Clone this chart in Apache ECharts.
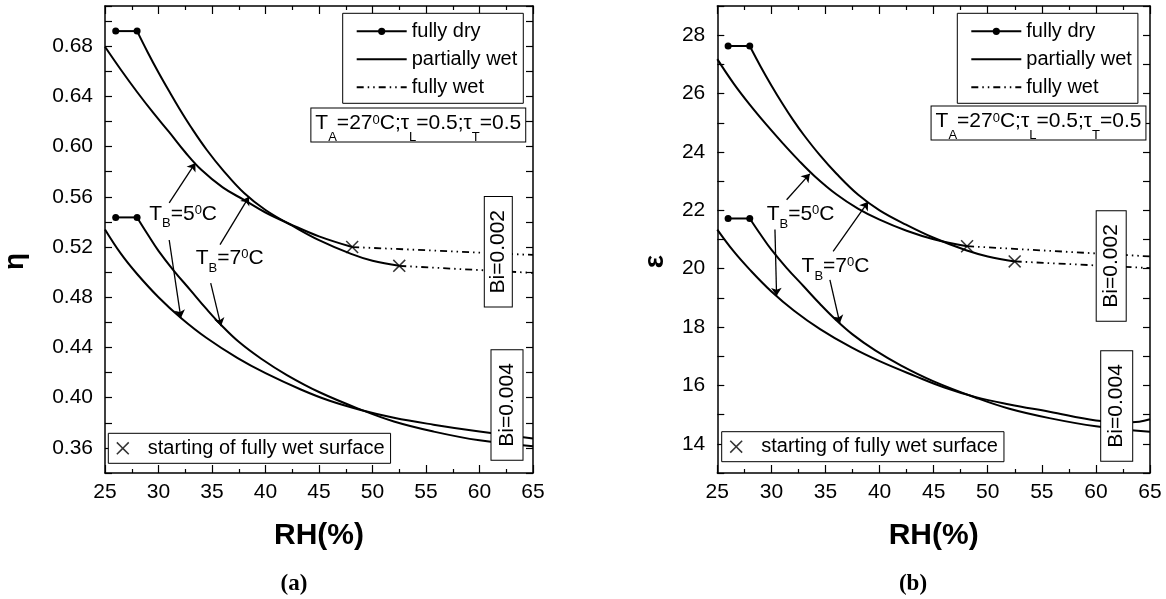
<!DOCTYPE html>
<html>
<head>
<meta charset="utf-8">
<title>eta / epsilon vs RH</title>
<script src="https://cdn.jsdelivr.net/npm/echarts@6.0.0/dist/echarts.min.js"></script>
<style>
  html, body { margin: 0; padding: 0; background: #fff; }
  #main { width: 1166px; height: 599px; }
</style>
</head>
<body>
<div id="main"></div>
<script>
// ---------- panel (a): fin efficiency eta ----------
var rhDry = [26, 28];
var etaDryBi2 = [0.692, 0.692];
var etaDryBi4 = [0.5436, 0.5436];

var rhEtaBi2T7 = [28, 29, 30, 31, 32, 33, 34.5, 36, 38, 40, 42.5, 45, 48, 50, 52.5];
var etaBi2T7 = [0.692, 0.675, 0.659, 0.644, 0.6295, 0.616, 0.5975, 0.5815, 0.563, 0.5495, 0.537, 0.5255, 0.5145, 0.509, 0.505];
var rhEtaBi2T5 = [25, 26.5, 28, 29.5, 31, 32.5, 34, 36, 38, 40, 42.5, 45, 48.1];
var etaBi2T5 = [0.6795, 0.661, 0.6435, 0.627, 0.6115, 0.5955, 0.5815, 0.5675, 0.5575, 0.5475, 0.5375, 0.5285, 0.520];
var rhEtaBi4T7 = [28, 29, 30, 31.4, 33, 34.5, 35.9, 37.5, 39.6, 42, 45, 48.9, 52, 55.7, 60, 65];
var etaBi4T7 = [0.5436, 0.530, 0.517, 0.5015, 0.4855, 0.4705, 0.4575, 0.4445, 0.431, 0.418, 0.4045, 0.3905, 0.381, 0.373, 0.366, 0.3613];
var rhEtaBi4T5 = [25, 26.5, 28, 30, 32.1, 34.5, 37.4, 40, 43.3, 46, 48.9, 52, 55.7, 60, 65];
var etaBi4T5 = [0.534, 0.5145, 0.4985, 0.48, 0.4635, 0.4475, 0.4315, 0.4195, 0.4065, 0.3975, 0.3902, 0.384, 0.3785, 0.373, 0.3674];

var rhWetEtaT5 = [48.1, 65];
var etaWetT5 = [0.520, 0.5137];
var rhWetEtaT7 = [52.5, 65];
var etaWetT7 = [0.505, 0.4994];
var rhOnsetEta = [48.1, 52.5];
var etaOnset = [0.520, 0.505];

// arrows: [x0, y0, x1, y1] (tip at x1,y1), notes: [x, y, T_B]
var etaArrows = [[31.0, 0.5552, 33.45, 0.587], [31.0, 0.5256, 32.09, 0.4635], [35.75, 0.5219, 38.45, 0.560], [34.88, 0.4912, 35.85, 0.457]];
var etaNotes = [[29.13, 0.5465, 5], [33.48, 0.511, 7]];

// ---------- panel (b): fin effectiveness epsilon ----------
var epsDryBi2 = [27.63, 27.63];
var epsDryBi4 = [21.72, 21.72];

var rhEpsBi2T7 = [28, 29, 30, 31, 32, 33, 34.5, 36, 38, 40, 42.5, 45, 48, 50, 52.5];
var epsBi2T7 = [27.63, 26.93, 26.28, 25.67, 25.1, 24.58, 23.88, 23.26, 22.54, 22.0, 21.5, 21.06, 20.63, 20.42, 20.25];
var rhEpsBi2T5 = [25, 26.5, 28, 29.5, 31, 32.5, 34, 36, 38, 40, 42.5, 45, 48.1];
var epsBi2T5 = [27.18, 26.35, 25.62, 24.95, 24.32, 23.72, 23.17, 22.55, 22.06, 21.68, 21.3, 21.01, 20.77];
var rhEpsBi4T7 = [28, 29, 30, 31.4, 33, 34.5, 35.9, 37.5, 39.6, 42, 45, 48.9, 52, 55.7, 60, 65];
var epsBi4T7 = [21.72, 21.17, 20.65, 20.03, 19.39, 18.79, 18.27, 17.75, 17.2, 16.68, 16.14, 15.58, 15.2, 14.88, 14.6, 14.41];
var rhEpsBi4T5 = [25, 26.5, 28, 30, 32.1, 34.5, 37.4, 40, 43.3, 46, 48.9, 52, 55.7, 60, 62.5, 64, 65];
var epsBi4T5 = [21.34, 20.6, 19.97, 19.22, 18.56, 17.93, 17.3, 16.83, 16.32, 15.93, 15.6, 15.35, 15.1, 14.8, 14.74, 14.76, 14.84];

var rhWetEpsT5 = [48.09, 65];
var epsWetT5 = [20.77, 20.42];
var rhWetEpsT7 = [52.49, 65];
var epsWetT7 = [20.25, 20.02];
var rhOnsetEps = [48.09, 52.49];
var epsOnset = [20.77, 20.25];

var epsArrows = [[31.41, 22.36, 33.55, 23.25], [30.33, 21.34, 30.48, 19.07], [35.71, 20.59, 38.94, 22.29], [35.41, 19.62, 36.33, 18.13]];
var epsNotes = [[29.56, 21.86, 5], [32.79, 20.09, 7]];

// ---------- helpers ----------
var FONT = 'Liberation Sans';
var XPATH = 'path://M0,1L1,0L6,5L11,0L12,1L7,6L12,11L11,12L6,7L1,12L0,11L5,6Z';
var DASH_DOT_DOT = [7, 4, 1.5, 4, 1.5, 4];

function zip(xs, ys) {
    return xs.map(function (x, i) { return [x, ys[i]]; });
}

// rich styles for series labels (echarts label style keys)
var rich = {
    n: {fontSize: 21, fontFamily: FONT, color: '#000', lineHeight: 24},
    s: {fontSize: 13, fontFamily: FONT, color: '#000', padding: [20, 0, 0, 0], lineHeight: 10},
    p: {fontSize: 13, fontFamily: FONT, color: '#000', padding: [0, 0, 7, 0], lineHeight: 10}
};
// rich styles for graphic text boxes (zrender style keys)
var boxRich = {
    n: {font: '21px "Liberation Sans"', fill: '#000', lineHeight: 24},
    s: {font: '13px "Liberation Sans"', fill: '#000', padding: [28, 0, 0, 0], lineHeight: 10},
    p: {font: '13px "Liberation Sans"', fill: '#000', padding: [0, 0, 7, 0], lineHeight: 10}
};

function tbText(t) {
    return '{n|T}{s|B}{n|=' + t + '}{p|0}{n|C}';
}

function panelSeries(g, d) {
    var common = {xAxisIndex: g * 2, yAxisIndex: g * 2};
    var list = [];
    function line(name, xs, ys, opt) {
        list.push(Object.assign({
            type: 'line', name: name, data: zip(xs, ys),
            symbol: 'circle', showSymbol: false,
            lineStyle: {color: '#000', width: 2},
            itemStyle: {color: 'transparent', borderWidth: 0},
            emphasis: {disabled: true},
            z: 2
        }, common, opt || {}));
    }
    d.dry.forEach(function (ys) {
        line('fully dry', rhDry, ys, {
            showSymbol: true, symbolSize: 7,
            itemStyle: {color: '#000'}, z: 3
        });
    });
    d.partial.forEach(function (c) {
        line('partially wet', c[0], c[1], {smooth: 0.4});
    });
    d.wet.forEach(function (c) {
        line('fully wet', c[0], c[1], {
            lineStyle: {color: '#000', width: 1.8, type: DASH_DOT_DOT}
        });
    });
    list.push(Object.assign({
        type: 'scatter', name: 'starting of fully wet surface',
        data: zip(d.onset[0], d.onset[1]),
        symbol: XPATH, symbolSize: 13,
        itemStyle: {color: '#000'},
        emphasis: {disabled: true},
        z: 4
    }, common));
    // arrows + T_B notes
    list.push(Object.assign({
        type: 'line', name: 'notes', data: [],
        markLine: {
            silent: true, animation: false,
            symbol: ['none', 'arrow'], symbolSize: 8,
            label: {show: false},
            lineStyle: {color: '#000', width: 1.3, type: 'solid'},
            emphasis: {disabled: true},
            data: d.arrows.map(function (a) {
                return [{coord: [a[0], a[1]]}, {coord: [a[2], a[3]]}];
            })
        },
        markPoint: {
            silent: true, animation: false,
            symbol: 'circle', symbolSize: 0,
            itemStyle: {color: 'transparent'},
            label: {show: true, position: 'right', distance: 0, rich: rich},
            data: d.notes.map(function (n) {
                return {coord: [n[0], n[1]], label: {formatter: tbText(n[2])}};
            })
        }
    }, common));
    return list;
}

function axesFor(g, yMin, yMax, yInterval, yStep, yDigits, yName, yGap) {
    var tickStyle = {color: '#000', width: 1.2};
    var lineStyle = {color: '#000', width: 1.5};
    var xBase = {
        type: 'value', gridIndex: g, min: 25, max: 65, interval: 5,
        axisLine: {onZero: false, lineStyle: lineStyle},
        axisTick: {inside: true, length: 8, lineStyle: tickStyle},
        minorTick: {show: true, splitNumber: 2, length: 4, lineStyle: tickStyle},
        splitLine: {show: false}
    };
    var yBase = {
        type: 'value', gridIndex: g, min: yMin, max: yMax, interval: yInterval,
        axisLine: {onZero: false, lineStyle: lineStyle},
        axisTick: {inside: true, length: 7, lineStyle: tickStyle},
        splitLine: {show: false}
    };
    var xs = [
        Object.assign({}, xBase, {
            position: 'bottom',
            axisLabel: {color: '#000', fontSize: 21, fontFamily: FONT, margin: 9},
            name: 'RH(%)', nameLocation: 'middle', nameGap: 48,
            nameTextStyle: {color: '#000', fontSize: 30, fontWeight: 'bold', fontFamily: FONT}
        }),
        Object.assign({}, xBase, {position: 'top', axisLabel: {show: false}})
    ];
    var ys = [
        Object.assign({}, yBase, {
            position: 'left',
            axisLabel: {
                color: '#000', fontSize: 21, fontFamily: FONT, margin: 12,
                formatter: function (v) {
                    var k = (v - yStep[0]) / yStep[1];
                    if (Math.abs(k - Math.round(k)) > 1e-6 || v > yStep[2] + 1e-9) return '';
                    return v.toFixed(yDigits);
                }
            },
            name: yName, nameLocation: 'middle', nameGap: yGap, nameRotate: 90,
            nameTextStyle: {color: '#000', fontSize: 28, fontWeight: 'bold', fontFamily: FONT, padding: [0, 44, 0, 0]}
        }),
        Object.assign({}, yBase, {position: 'right', axisLabel: {show: false}})
    ];
    return {x: xs, y: ys};
}

var axA = axesFor(0, 0.34, 0.712, 0.02, [0.36, 0.04, 0.68], 2, 'η', 76);
var axB = axesFor(1, 13, 29, 1, [14, 2, 28], 0, 'ε', 48);

var legendText = {color: '#000', fontSize: 20, fontFamily: FONT};
var mainLegend = {
    orient: 'vertical', top: 13.3, padding: [8, 6, 6, 13],
    itemWidth: 50, itemHeight: 9, itemGap: 8,
    borderColor: '#000', borderWidth: 1, backgroundColor: '#fff',
    selectedMode: false, textStyle: legendText,
    data: ['fully dry', 'partially wet', 'fully wet']
};
var onsetLegend = {
    orient: 'vertical', padding: [5, 6, 5, 8],
    itemWidth: 40, itemHeight: 13,
    borderColor: '#000', borderWidth: 1, backgroundColor: '#fff',
    selectedMode: false, textStyle: legendText,
    data: ['starting of fully wet surface']
};

function boxText(x, y, text, pad, rot) {
    return {
        type: 'text', x: x, y: y, z: 100, rotation: rot || 0,
        style: {
            text: text, rich: boxRich,
            font: '21px "Liberation Sans"', fill: '#000',
            align: 'center', verticalAlign: 'middle',
            backgroundColor: '#fff', borderColor: '#000', borderWidth: 1,
            padding: pad
        }
    };
}
var taText = '{n|T}{s|A}{n|=27}{p|0}{n|C;τ}{s|L}{n|=0.5;τ}{s|T}{n|=0.5}';

var option = {
    animation: false,
    backgroundColor: '#fff',
    grid: [
        {left: 104, top: 6, width: 429, height: 467},
        {left: 717.3, top: 6, width: 432.7, height: 467}
    ],
    xAxis: axA.x.concat(axB.x),
    yAxis: axA.y.concat(axB.y),
    legend: [
        Object.assign({}, mainLegend, {left: 342.7}),
        Object.assign({}, mainLegend, {left: 957.3}),
        Object.assign({}, onsetLegend, {left: 108.3, top: 433.3}),
        Object.assign({}, onsetLegend, {left: 721.7, top: 431.7})
    ],
    graphic: [
        boxText(418.3, 125, taText, [3, 4, 6, 4]),
        boxText(1038.5, 123, taText, [3, 4, 6, 4]),
        boxText(498.3, 251.7, 'Bi=0.002', [3, 13, 3, 13], Math.PI / 2),
        boxText(507, 404.9, 'Bi=0.004', [5, 13, 5, 13], Math.PI / 2),
        boxText(1111.2, 265.9, 'Bi=0.002', [4, 13, 4, 13], Math.PI / 2),
        boxText(1116.7, 405.9, 'Bi=0.004', [5, 13, 5, 13], Math.PI / 2),
        {type: 'text', x: 294, y: 584, z: 100,
         style: {text: '(a)', font: 'bold 23px "Liberation Serif"', fill: '#000', align: 'center', verticalAlign: 'middle'}},
        {type: 'text', x: 913, y: 584, z: 100,
         style: {text: '(b)', font: 'bold 23px "Liberation Serif"', fill: '#000', align: 'center', verticalAlign: 'middle'}}
    ],
    series: panelSeries(0, {
        dry: [etaDryBi2, etaDryBi4],
        partial: [[rhEtaBi2T7, etaBi2T7], [rhEtaBi2T5, etaBi2T5], [rhEtaBi4T7, etaBi4T7], [rhEtaBi4T5, etaBi4T5]],
        wet: [[rhWetEtaT5, etaWetT5], [rhWetEtaT7, etaWetT7]],
        onset: [rhOnsetEta, etaOnset],
        arrows: etaArrows,
        notes: etaNotes
    }).concat(panelSeries(1, {
        dry: [epsDryBi2, epsDryBi4],
        partial: [[rhEpsBi2T7, epsBi2T7], [rhEpsBi2T5, epsBi2T5], [rhEpsBi4T7, epsBi4T7], [rhEpsBi4T5, epsBi4T5]],
        wet: [[rhWetEpsT5, epsWetT5], [rhWetEpsT7, epsWetT7]],
        onset: [rhOnsetEps, epsOnset],
        arrows: epsArrows,
        notes: epsNotes
    }))
};

var chart = echarts.init(document.getElementById('main'));
chart.setOption(option);
</script>
</body>
</html>
